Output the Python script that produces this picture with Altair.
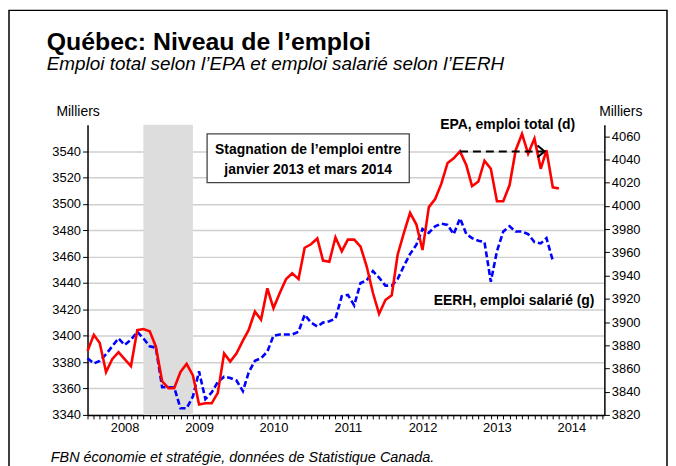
import altair as alt
import pandas as pd

# ---------------- data ----------------
start_month = "2008-01-01"

# EPA, emploi total (right axis, milliers) Jan 2008 .. May 2014
epa_values = [
    3875, 3889, 3882, 3857, 3868, 3874, 3868, 3862, 3893, 3894, 3892, 3879,  # 2008
    3849, 3843, 3843, 3857, 3864, 3854, 3829, 3830, 3830, 3839, 3873, 3866,  # 2009
    3873, 3884, 3893, 3909, 3902, 3929, 3912, 3925, 3937, 3942, 3937, 3964,  # 2010
    3967, 3972, 3953, 3952, 3973, 3961, 3971, 3971, 3965, 3948, 3925, 3907,  # 2011
    3919, 3923, 3958, 3977, 3994, 3984, 3962, 3999, 4006, 4019, 4037, 4041,  # 2012
    4047, 4035, 4017, 4021, 4039, 4032, 4004, 4004, 4018, 4048, 4062, 4045,  # 2013
    4058, 4032, 4048, 4016, 4015,                                            # 2014
]

# EERH, emploi salarié (left axis, milliers) Jan 2008 .. Apr 2014
eerh_values = [
    3383, 3379, 3381, 3386, 3392, 3398, 3393, 3397, 3403, 3398, 3392, 3391,  # 2008
    3361, 3361, 3361, 3345, 3345, 3354, 3373, 3352, 3357, 3365, 3369, 3368,  # 2009
    3366, 3358, 3372, 3381, 3383, 3388, 3400, 3401, 3401, 3401, 3403, 3416,  # 2010
    3410, 3407, 3410, 3411, 3413, 3430, 3431, 3423, 3440, 3442, 3449, 3444,  # 2011
    3438, 3438, 3443, 3453, 3462, 3469, 3481, 3478, 3483, 3485, 3484, 3477,  # 2012
    3489, 3477, 3474, 3472, 3471, 3441, 3464, 3479, 3483, 3479, 3479, 3477,  # 2013
    3471, 3470, 3474, 3457,                                                  # 2014
]

recession_start = ["2008-10-01"]
recession_end = ["2009-06-01"]

arrow_start = ["2013-01-01"]
arrow_end = ["2014-02-20"]
arrow_level = [4047]

left_ticks = list(range(3340, 3541, 20))
right_ticks = list(range(3820, 4061, 20))

title_text = "Québec: Niveau de l’emploi"
subtitle_text = "Emploi total selon l’EPA et emploi salarié selon l’EERH"
source_text = "FBN économie et stratégie, données de Statistique Canada."
box_lines = ["Stagnation de l’emploi entre", "janvier 2013 et mars 2014"]
epa_label = "EPA, emploi total (d)"
eerh_label = "EERH, emploi salarié (g)"

# ---------------- tables ----------------
epa_df = pd.DataFrame({
    "date": pd.date_range(start_month, periods=len(epa_values), freq="MS").strftime("%Y-%m-%d"),
    "value": epa_values,
})
eerh_df = pd.DataFrame({
    "date": pd.date_range(start_month, periods=len(eerh_values), freq="MS").strftime("%Y-%m-%d"),
    "value": eerh_values,
})
rec_df = pd.DataFrame({"start": recession_start, "end": recession_end})
arrow_df = pd.DataFrame({"start": arrow_start, "end": arrow_end, "value": arrow_level})
one = pd.DataFrame({"k": [0]})

FONT = "Liberation Sans"

x_scale = alt.Scale(
    type="utc",
    domain=[alt.DateTime(year=2008, month=1, date=1, utc=True),
            alt.DateTime(year=2014, month=12, date=10, utc=True)],
)
x_axis = alt.Axis(
    title=None,
    tickCount=alt.TimeIntervalStep(interval="month", step=1),
    labelExpr="utcmonth(datum.value) == 6 ? '' + utcyear(datum.value) : ''",
    labelOverlap=False, labelFlush=False, labelBound=False,
    grid=False, domainColor="black", domainWidth=1.5, tickColor="black",
    tickSize=4, labelPadding=3, labelFontSize=13, labelFont=FONT, labelColor="black",
)

left_scale = alt.Scale(domain=[3340, 3560], nice=False, zero=False)
right_scale = alt.Scale(domain=[3820, 4070], nice=False, zero=False)

left_axis = alt.Axis(
    orient="left", values=left_ticks, format="d", grid=True, gridColor="#cfcfcf", gridWidth=1.5,
    domainColor="black", domainWidth=1.5, tickColor="black", tickSize=5,
    labelPadding=2, labelFontSize=13, labelFont=FONT, labelColor="black",
    title="Milliers", titleAngle=0, titleX=-10, titleY=-13, titleAlign="center",
    titleBaseline="middle", titleFontSize=14, titleFont=FONT, titleFontWeight="normal",
    titleColor="black",
)
right_axis = alt.Axis(
    orient="right", values=right_ticks, format="d", grid=False,
    domainColor="black", domainWidth=1.5, tickColor="black", tickSize=5,
    labelPadding=2, labelFontSize=13, labelFont=FONT, labelColor="black",
    title="Milliers", titleAngle=0, titleX=16, titleY=-13, titleAlign="center",
    titleBaseline="middle", titleFontSize=14, titleFont=FONT, titleFontWeight="normal",
    titleColor="black",
)

y_left = alt.Y("value:Q", scale=left_scale, axis=left_axis)
y_right = alt.Y("value:Q", scale=right_scale, axis=right_axis)

# ---------------- marks ----------------
frame = alt.Chart(one).mark_rect(fillOpacity=0, stroke="black", strokeWidth=1.5).encode(
    x=alt.value(-79), x2=alt.value(583), y=alt.value(-115), y2=alt.value(380)
)

band = alt.Chart(rec_df).mark_rect(color="#dddddd").encode(
    x=alt.X("start:T", scale=x_scale, axis=x_axis), x2="end:T"
)
blue = alt.Chart(eerh_df).mark_line(color="#0000ff", strokeWidth=2.6, strokeDash=[6, 3]).encode(
    x=alt.X("date:T", scale=x_scale, axis=x_axis), y=y_left
)
left_layer = alt.layer(band, blue)

red = alt.Chart(epa_df).mark_line(color="#ff0000", strokeWidth=2.6).encode(
    x=alt.X("date:T", scale=x_scale, axis=x_axis), y=y_right
)
arrow_line = alt.Chart(arrow_df).mark_rule(color="black", strokeWidth=2, strokeDash=[8, 5]).encode(
    x=alt.X("start:T", scale=x_scale, axis=x_axis), x2="end:T", y=y_right
)
arrow_head = alt.Chart(arrow_df).mark_point(
    shape="M-1.2,-1L0,0L-1.2,1", filled=False, size=144, strokeWidth=2,
    color="black", opacity=1
).encode(x=alt.X("end:T", scale=x_scale, axis=x_axis), y=y_right)
right_layer = alt.layer(red, arrow_line, arrow_head)


def label(text, x, y, size, weight="normal", style="normal", font=FONT, align="left"):
    return alt.Chart(one).mark_text(
        text=text, align=align, baseline="alphabetic", fontSize=size,
        fontWeight=weight, fontStyle=style, font=font, color="black"
    ).encode(x=alt.value(x), y=alt.value(y))


box = alt.Chart(one).mark_rect(fill="white", stroke="#444444", strokeWidth=1.3).encode(
    x=alt.value(120.3), x2=alt.value(323.7), y=alt.value(9.3), y2=alt.value(58.3)
)

texts = [
    label(title_text, -41, -75, 25, weight="bold"),
    label(subtitle_text, -41, -55, 19, style="italic"),
    label(source_text, -37, 339, 14.5, style="italic"),
    label(box_lines[0], 222, 29.5, 14, weight="bold", align="center"),
    label(box_lines[1], 222, 49.5, 14, weight="bold", align="center"),
    label(epa_label, 422.8, 4.5, 14, weight="bold", align="center"),
    label(eerh_label, 429.2, 181, 14, weight="bold", align="center"),
]

chart = alt.layer(
    frame, left_layer, right_layer, box, *texts
).resolve_scale(y="independent").properties(
    width=520, height=292,
    autosize=alt.AutoSizeParams(type="none"),
    padding={"left": 80, "top": 116, "right": 64, "bottom": 50},
    background="white",
).configure_view(stroke=None)

chart.save("out.html", embed_options={"renderer": "svg", "actions": False})
